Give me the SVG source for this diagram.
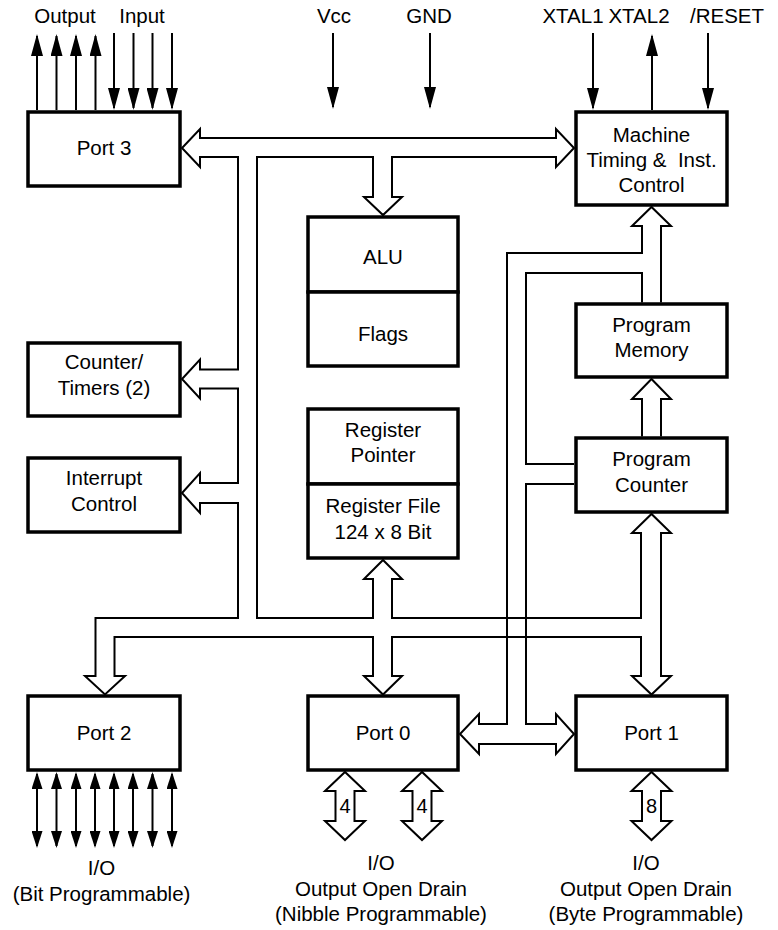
<svg xmlns="http://www.w3.org/2000/svg" width="778" height="930" viewBox="0 0 778 930">
<style>
.box{fill:#fff;stroke:#000;stroke-width:3.5}
.bus{fill:none;stroke:#000;stroke-width:2;stroke-linejoin:miter}
.sig{fill:none;stroke:#000;stroke-width:2}
.big{marker-end:url(#ah)}
.io{marker-start:url(#as);marker-end:url(#as)}
text{font-family:"Liberation Sans",Arial,Helvetica,sans-serif;font-size:20.5px;text-anchor:middle;fill:#000}
.n{font-size:20px}
</style>
<defs>
<marker id="ah" viewBox="0 0 22 12" refX="20" refY="6" markerWidth="22" markerHeight="12" markerUnits="userSpaceOnUse" orient="auto-start-reverse"><path d="M0,0 L22,6 L0,12 Z" fill="#000"/></marker>
<marker id="as" viewBox="0 0 17 11" refX="15" refY="5.5" markerWidth="17" markerHeight="11" markerUnits="userSpaceOnUse" orient="auto-start-reverse"><path d="M0,0 L17,5.5 L0,11 Z" fill="#000"/></marker>
</defs>
<rect width="778" height="930" fill="#fff"/>

<g id="port3"><rect class="box" x="28" y="112" width="152" height="74"/><text x="104" y="155">Port 3</text></g>
<g id="machine"><rect class="box" x="576" y="112" width="151" height="93"/><text x="651.5" y="141.5">Machine</text><text x="651.5" y="166.5" xml:space="preserve">Timing &amp;  Inst.</text><text x="651.5" y="191.5">Control</text></g>
<g id="alu"><rect class="box" x="308" y="217" width="150" height="75"/><text x="383" y="264">ALU</text></g>
<g id="flags"><rect class="box" x="308" y="292" width="150" height="74"/><text x="383" y="340.5">Flags</text></g>
<g id="counter"><rect class="box" x="28" y="343" width="152" height="73"/><text x="104" y="369">Counter/</text><text x="104" y="395">Timers (2)</text></g>
<g id="interrupt"><rect class="box" x="28" y="458" width="152" height="74"/><text x="104" y="485">Interrupt</text><text x="104" y="511">Control</text></g>
<g id="regptr"><rect class="box" x="308" y="409" width="150" height="75"/><text x="383" y="437">Register</text><text x="383" y="462">Pointer</text></g>
<g id="regfile"><rect class="box" x="308" y="484" width="150" height="74"/><text x="383" y="513">Register File</text><text x="383" y="539">124 x 8 Bit</text></g>
<g id="progmem"><rect class="box" x="576" y="304" width="151" height="73"/><text x="651.5" y="332">Program</text><text x="651.5" y="357">Memory</text></g>
<g id="progcnt"><rect class="box" x="576" y="438" width="151" height="74"/><text x="651.5" y="466">Program</text><text x="651.5" y="492">Counter</text></g>
<g id="port2"><rect class="box" x="28" y="696" width="152" height="74"/><text x="104" y="740">Port 2</text></g>
<g id="port0"><rect class="box" x="308" y="696" width="150" height="74"/><text x="383" y="740">Port 0</text></g>
<g id="port1"><rect class="box" x="576" y="696" width="151" height="74"/><text x="651.5" y="740">Port 1</text></g>

<g id="connectors">
<path class="bus" d="M200 157 L200 167 L182 148 L200 129 L200 138 L556 138 L556 129 L574 148 L556 167 L556 157 L392 157 L392 197 L402 197 L383 215 L364 197 L373 197 L373 157 L257 157 L257 618 L373 618 L373 579 L364 579 L383 560 L402 579 L392 579 L392 618 L641 618 L641 533 L632 533 L651.5 514 L671 533 L661 533 L661 676 L671 676 L651.5 694.5 L632 676 L641 676 L641 637 L392 637 L392 676 L402 676 L383 694.5 L364 676 L373 676 L373 637 L114.5 637 L114.5 676 L125 676 L105 694.5 L85 676 L95.5 676 L95.5 618 L238 618 L238 503 L200 503 L200 513 L182 493 L200 473 L200 483 L238 483 L238 388.5 L200 388.5 L200 398.5 L182 379 L200 359.5 L200 369.5 L238 369.5 L238 157 Z"/>
<path class="bus" d="M642 302.5 V273 H526 V464 H574 M574 484 H526 V724 H556 V714 L574 734 L556 754 V744 H479 V754 L460 734 L479 714 V724 H507 V253 H642 V226 H632 L651.5 207 L671 226 H661 V302.5"/>
<path class="bus" d="M642 436.5 V399 H632 L651.5 379 L671 399 H661 V436.5"/>
<path class="bus" d="M335.5 791 V821 H325 L345 840 L365 821 H354.5 V791 H365 L345 772 L325 791 Z"/>
<path class="bus" d="M412.5 791 V821 H402 L422 840 L442 821 H431.5 V791 H442 L422 772 L402 791 Z"/>
<path class="bus" d="M642 791 V821 H631.5 L651.5 840 L671.5 821 H661 V791 H671.5 L651.5 772 L631.5 791 Z"/>
<g class="sig big">
<path d="M37 110 V36"/><path d="M56.5 110 V36"/><path d="M76 110 V36"/><path d="M95.5 110 V36"/>
<path d="M114 33 V108"/><path d="M133.5 33 V108"/><path d="M152.5 33 V108"/><path d="M172 33 V108"/>
<path d="M333 33 V107"/><path d="M430 33 V107"/>
<path d="M593 33 V108"/><path d="M652 110 V36"/><path d="M708 33 V108"/>
</g>
<g class="sig io">
<path d="M37 774 V846"/><path d="M56.5 774 V846"/><path d="M76 774 V846"/><path d="M95 774 V846"/>
<path d="M114 774 V846"/><path d="M133 774 V846"/><path d="M152.5 774 V846"/><path d="M172 774 V846"/>
</g>
</g>

<g id="labels">
<text x="65" y="23">Output</text><text x="142" y="23">Input</text>
<text x="334" y="23">Vcc</text><text x="429" y="23">GND</text>
<text x="573" y="23">XTAL1</text><text x="639" y="23">XTAL2</text><text x="727" y="23">/RESET</text>
<text class="n" x="345" y="813">4</text><text class="n" x="422" y="813">4</text><text class="n" x="651.5" y="813">8</text>
<text x="101.5" y="875">I/O</text><text x="101.5" y="901">(Bit Programmable)</text>
<text x="381" y="870">I/O</text><text x="381" y="896">Output Open Drain</text><text x="381" y="921">(Nibble Programmable)</text>
<text x="646" y="870">I/O</text><text x="646" y="896">Output Open Drain</text><text x="646" y="921">(Byte Programmable)</text>
</g>
</svg>
